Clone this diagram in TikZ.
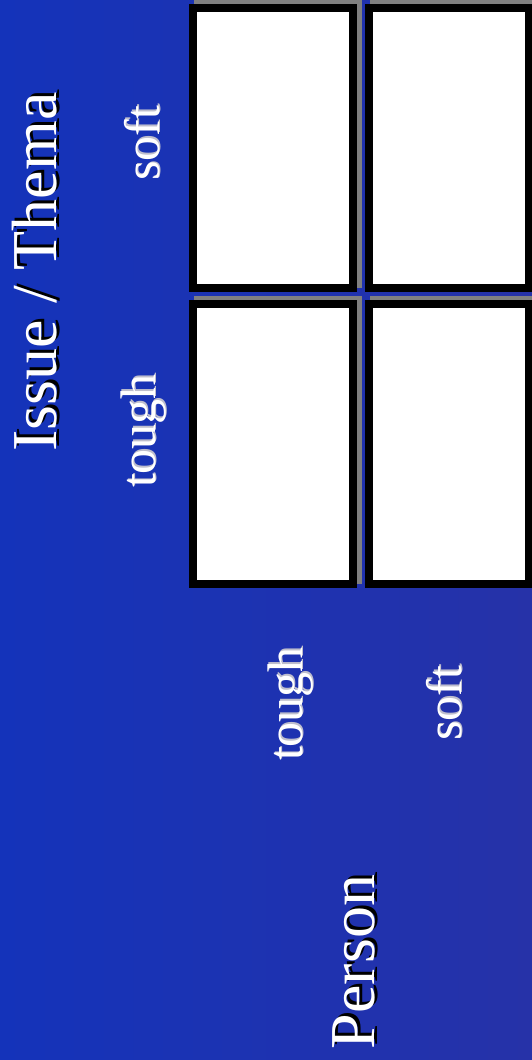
\documentclass[tikz,border=0pt]{standalone}
\usepackage{fontspec}
\setmainfont{Liberation Serif}
\usepackage{xcolor}
\usetikzlibrary{positioning}
\definecolor{SlideBlue}{RGB}{20,51,186}
\definecolor{SlideViolet}{RGB}{38,50,168}
\definecolor{SlideGrey}{RGB}{128,128,128}
\definecolor{SlideShade}{RGB}{190,190,205}
\newcommand{\darkshadow}[1]{\makebox[0pt][l]{\hspace{3pt}\raisebox{-3pt}{\color{black}#1}}#1}
\newcommand{\lightshadow}[1]{\makebox[0pt][l]{\hspace{1.5pt}\raisebox{-1.5pt}{\color{SlideShade}#1}}#1}
\tikzset{
  gridbox/.style={draw=black, line width=8pt, fill=white, minimum width=160pt, minimum height=280pt, inner sep=0pt,
    preaction={draw=SlideGrey, fill=SlideGrey, line width=8pt, transform canvas={xshift=5pt, yshift=4pt}}},
  axistitle/.style={rotate=90, anchor=base, text=white, inner sep=0pt, font=\fontsize{64}{64}\selectfont},
  axislabel/.style={rotate=90, anchor=base, text=white, inner sep=0pt, font=\fontsize{50}{50}\selectfont}
}

\begin{document}
\begin{tikzpicture}[x=1pt, y=-1pt, node distance=8pt]
\useasboundingbox (0,0) rectangle (532,1060);
\fill[left color=SlideBlue, right color=SlideViolet] (0,0) rectangle (532,1060);
\clip (0,0) rectangle (532,1060);
% the four quadrants
\node[gridbox, anchor=north west] (tl) at (189,4) {};
\node[gridbox, below=of tl] (bl) {};
\node[gridbox, right=of tl] (tr) {};
\node[gridbox, right=of bl] (br) {};
% issue axis
\node[axistitle] (issue) at (56,272) {\darkshadow{Issue / Thema}};
\node[axislabel] (issoft) at (159,143) {\lightshadow{soft}};
\node[axislabel] (istough) at (155,431) {\lightshadow{tough}};
% person axis
\node[axislabel] (ptough) at (302,704) {\lightshadow{tough}};
\node[axislabel] (psoft) at (461,703) {\lightshadow{soft}};
\node[axistitle] (person) at (374,962) {\darkshadow{Person}};
\end{tikzpicture}
\end{document}
